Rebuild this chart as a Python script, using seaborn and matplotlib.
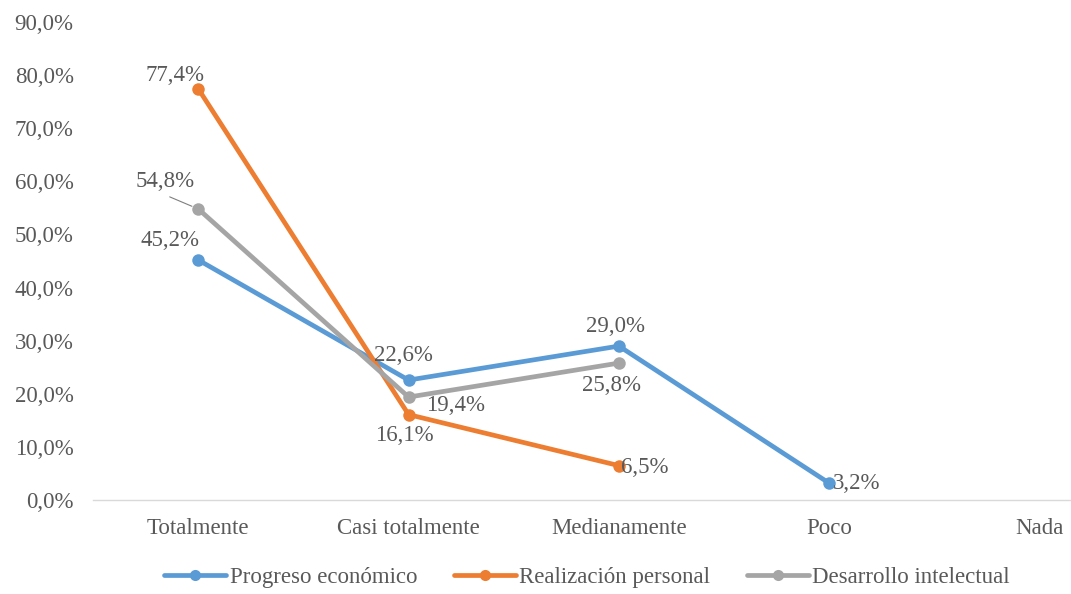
import matplotlib
matplotlib.use("Agg")
import matplotlib.pyplot as plt
import numpy as np
import pandas as pd
import seaborn as sns

categories = ["Totalmente", "Casi totalmente", "Medianamente", "Poco", "Nada"]
progreso = [0.452, 0.226, 0.290, 0.032, np.nan]
realizacion = [0.774, 0.161, 0.065, np.nan, np.nan]
desarrollo = [0.548, 0.194, 0.258, np.nan, np.nan]
series_names = ["Progreso económico", "Realización personal", "Desarrollo intelectual"]
y_ticks = [0.0, 0.1, 0.2, 0.3, 0.4, 0.5, 0.6, 0.7, 0.8, 0.9]

colors = ["#5B9BD5", "#ED7D31", "#A5A5A5"]
TEXT = "#595959"
FS = 16.5

# label offsets in pixels (dx, dy) per series / category
offsets = {
    "Progreso económico": [(-28, 20), (-5, 25), (-3, 20), (27, 0), None],
    "Realización personal": [(-23, 13), (-4, -21), (26, -2), None, None],
    "Desarrollo intelectual": [(-33, 27), (47, -8), (-7, -22), None, None],
}

sns.set_theme(style="white")
plt.rcParams["font.family"] = ["Liberation Serif", "DejaVu Serif"]

df = pd.DataFrame({
    "pos": list(range(len(categories))) * 3,
    "value": progreso + realizacion + desarrollo,
    "serie": [n for n in series_names for _ in categories],
}).dropna()

fig = plt.figure(figsize=(10.71, 5.94), dpi=100)
ax = fig.add_axes([0.087, 0.158, 0.913, 0.805])

sns.lineplot(data=df, x="pos", y="value", hue="serie", hue_order=series_names,
             palette=colors, marker="o", markersize=9, markeredgewidth=0,
             linewidth=3.4, ax=ax, legend=False)

for name, color in zip(series_names, colors):
    sub = df[df["serie"] == name]
    for pos, val in zip(sub["pos"], sub["value"]):
        off = offsets[name][pos]
        label = f"{val * 100:.1f}%".replace(".", ",")
        kw = {}
        if name == "Desarrollo intelectual" and pos == 0:
            # leader line, as in the original
            kw["arrowprops"] = dict(arrowstyle="-", color="#7f7f7f", lw=0.8,
                                    relpos=(0.4, 0.0), shrinkA=2, shrinkB=5)
        ax.annotate(label, (pos, val), xytext=off, textcoords="offset pixels",
                    ha="center", va="center", fontsize=FS, color=TEXT, **kw)

ax.set_xlim(-0.5, 4.15)
ax.set_ylim(0, 0.9)
ax.set_yticks(y_ticks)
ax.set_yticklabels([f"{t * 100:.1f}%".replace(".", ",") for t in y_ticks])
ax.set_xticks(range(len(categories)))
ax.set_xticklabels(categories)
ax.tick_params(axis="both", length=0, labelsize=FS, colors=TEXT)
ax.tick_params(axis="x", pad=13)
ax.tick_params(axis="y", pad=14)
ax.set_xlabel("")
ax.set_ylabel("")
for side in ["top", "right", "left"]:
    ax.spines[side].set_visible(False)
ax.spines["bottom"].set_color("#D9D9D9")
ax.spines["bottom"].set_linewidth(1)

handles = [plt.Line2D([0], [0], color=c, lw=3.4, marker="o", markersize=8,
                      markeredgewidth=0) for c in colors]
fig.legend(handles, series_names, loc="center", bbox_to_anchor=(0.548, 0.027),
           ncol=3, frameon=False, fontsize=FS, handlelength=2.7,
           columnspacing=1.6, handletextpad=0.15, labelcolor=TEXT)

fig.savefig("out.png", dpi=100)
